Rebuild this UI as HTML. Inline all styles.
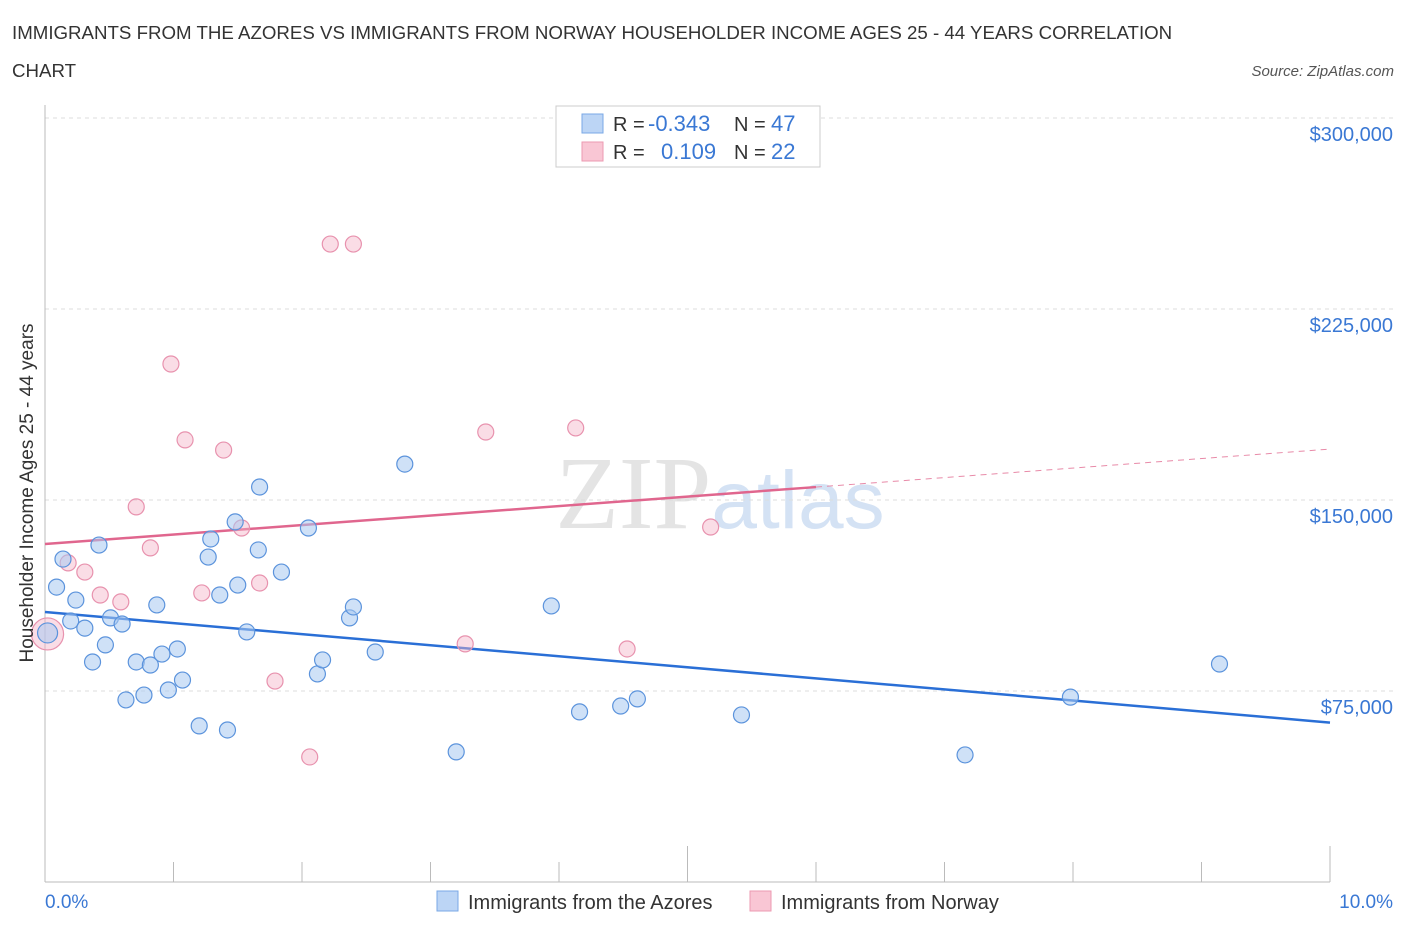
<!DOCTYPE html>
<html><head><meta charset="utf-8"><style>
body{margin:0;background:#fff;font-family:"Liberation Sans",sans-serif;}
svg{display:block}
</style></head><body>
<svg id="chart" width="1406" height="930" xmlns="http://www.w3.org/2000/svg">
<text x="12" y="39" font-size="18.7" fill="#333">IMMIGRANTS FROM THE AZORES VS IMMIGRANTS FROM NORWAY HOUSEHOLDER INCOME AGES 25 - 44 YEARS CORRELATION</text>
<text x="12" y="77" font-size="18.7" fill="#333">CHART</text>
<text x="1394" y="76" font-size="15" fill="#555" font-style="italic" text-anchor="end">Source: ZipAtlas.com</text>
<text x="720" y="528" font-size="104" fill="#e4e4e4" text-anchor="middle" font-family="Liberation Serif,serif">ZIP<tspan fill="#d4e2f4" font-family="Liberation Sans,sans-serif" font-size="82">atlas</tspan></text>
<g id="grid"></g><g id="axes"></g><g id="lines"></g><g id="pts"></g>
<text x="33" y="493" font-size="19" fill="#333" text-anchor="middle" transform="rotate(-90 33 493)">Householder Income Ages 25 - 44 years</text>
<text x="45" y="908" font-size="19" fill="#3a78d4">0.0%</text>
<text x="1393" y="908" font-size="19" fill="#3a78d4" text-anchor="end">10.0%</text>
<g>
<rect x="556" y="106" width="264" height="61" fill="#fff" stroke="#ccc"/>
<rect x="582" y="114" width="21" height="19" fill="#bcd5f5" stroke="#7aa8e6"/>
<rect x="582" y="142" width="21" height="19" fill="#f9c6d4" stroke="#ec9ab2"/>
<text x="613" y="131" font-size="20" fill="#333">R = <tspan x="648" fill="#3a78d4" font-size="22">-0.343</tspan><tspan x="734">N = </tspan><tspan x="771" fill="#3a78d4" font-size="22">47</tspan></text>
<text x="613" y="159" font-size="20" fill="#333">R = <tspan x="661" fill="#3a78d4" font-size="22">0.109</tspan><tspan x="734">N = </tspan><tspan x="771" fill="#3a78d4" font-size="22">22</tspan></text>
</g>
<g>
<rect x="437" y="891" width="21" height="20" fill="#bcd5f5" stroke="#7aa8e6"/>
<text x="468" y="909" font-size="20" fill="#333">Immigrants from the Azores</text>
<rect x="750" y="891" width="21" height="20" fill="#f9c6d4" stroke="#ec9ab2"/>
<text x="781" y="909" font-size="20" fill="#333">Immigrants from Norway</text>
</g>
</svg>
<script>
const yTicks=[75000,150000,225000,300000];
const yTickLabels=["$75,000","$150,000","$225,000","$300,000"];
const xTicks=[0,1,2,3,4,5,6,7,8,9,10];
const blueX=[0.02,0.09,0.14,0.20,0.24,0.31,0.37,0.42,0.47,0.51,0.60,0.63,0.71,0.77,0.82,0.87,0.91,0.96,1.03,1.07,1.20,1.27,1.29,1.36,1.42,1.48,1.50,1.57,1.66,1.67,1.84,2.05,2.12,2.16,2.37,2.40,2.57,2.80,3.20,3.94,4.16,4.48,4.61,5.42,7.16,7.98,9.14];
const blueY=[97.8,115.8,126.8,102.5,110.7,99.7,86.4,132.3,93.1,103.7,101.3,71.5,86.4,73.4,85.2,108.8,89.5,75.4,91.5,79.3,61.3,127.6,134.7,112.7,59.7,141.4,116.6,98.2,130.4,155.1,121.7,139.0,81.7,87.2,103.7,108.0,90.3,164.1,51.1,108.4,66.8,69.1,71.9,65.6,49.9,72.6,85.6];
const pinkX=[0.02,0.18,0.31,0.43,0.59,0.71,0.82,0.98,1.09,1.22,1.39,1.53,1.67,1.79,2.06,2.22,2.40,3.27,3.43,4.13,4.53,5.18];
const pinkY=[97.4,125.3,121.7,112.7,110.0,147.3,131.2,203.4,173.6,113.5,169.6,139.0,117.4,78.9,49.1,250.5,250.5,93.5,176.7,178.3,91.5,139.4];
const blueTrend=[106.0,62.6];
const pinkTrend=[132.7,170.0];
const pinkSolidEnd=6.0;
const NS="http://www.w3.org/2000/svg";
const X=v=>45+v*128.5;
const Y=k=>882-k*1000*382/150000;
function mk(p,t,a){const e=document.createElementNS(NS,t);for(const k in a)e.setAttribute(k,a[k]);p.appendChild(e);return e;}
const grid=document.getElementById('grid'),axes=document.getElementById('axes'),lines=document.getElementById('lines'),pts=document.getElementById('pts');
yTicks.forEach((v,i)=>{const y=Y(v/1000);
const l=mk(grid,'line',{x1:45,x2:1393,y1:y,y2:y,stroke:'#ddd','stroke-dasharray':'4,4'});


const t=mk(grid,'text',{x:1393,y:y+23,'font-size':20,fill:'#3a78d4','text-anchor':'end'});t.textContent=yTickLabels[i];

});
mk(axes,'line',{x1:45,x2:45,y1:105,y2:882,stroke:'#bbb'});
mk(axes,'line',{x1:45,x2:1330,y1:882,y2:882,stroke:'#bbb'});
xTicks.forEach(v=>{const x=X(v);const len=(v==5||v==10)?36:20;
const l=mk(axes,'line',{x1:x,x2:x,y1:882,y2:882-len,stroke:'#bbb'});

});
const bl=mk(lines,'line',{x1:X(0),y1:Y(blueTrend[0]),x2:X(10),y2:Y(blueTrend[1]),stroke:'#2a6fd6','stroke-width':2.5});


const pm=pinkTrend[0]+(pinkTrend[1]-pinkTrend[0])*pinkSolidEnd/10;
const pl=mk(lines,'line',{x1:X(0),y1:Y(pinkTrend[0]),x2:X(pinkSolidEnd),y2:Y(pm),stroke:'#e0668e','stroke-width':2.5});


const pd=mk(lines,'line',{x1:X(pinkSolidEnd),y1:Y(pm),x2:X(10),y2:Y(pinkTrend[1]),stroke:'#e88aa8','stroke-width':1,'stroke-dasharray':'6,5'});


pinkX.forEach((v,i)=>{const c=mk(pts,'circle',{cx:X(v),cy:Y(pinkY[i]),r:i==0?16:8,fill:'rgba(245,180,200,0.45)',stroke:'#e892ae','stroke-width':1.2});

});
blueX.forEach((v,i)=>{const c=mk(pts,'circle',{cx:X(v),cy:Y(blueY[i]),r:i==0?10:8,fill:'rgba(168,200,240,0.55)',stroke:'#5b93dc','stroke-width':1.2});

});
</script>
</body></html>
